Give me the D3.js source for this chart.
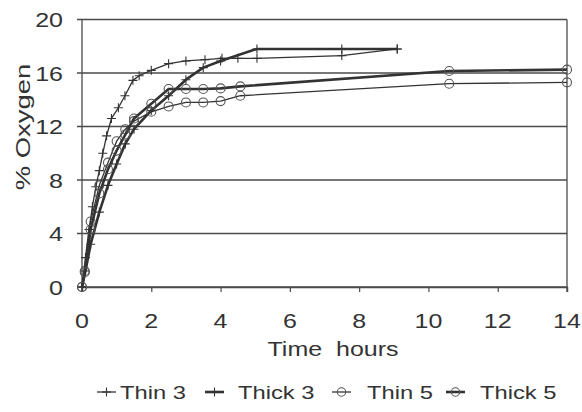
<!DOCTYPE html>
<html>
<head>
<meta charset="utf-8">
<script src="https://cdn.jsdelivr.net/npm/d3@7/dist/d3.min.js"></script>
<style>
  html, body { margin: 0; padding: 0; background: #ffffff; }
  svg { display: block; }
  text { font-family: "Liberation Sans", Arial, sans-serif; fill: #333; }
</style>
</head>
<body>
<svg id="chart" width="582" height="412"></svg>
<script>
// ---- data ----
const xTicks = [0, 2, 4, 6, 8, 10, 12, 14];
const yTicks = [0, 4, 8, 12, 16, 20];

const thin3T = [0, 0.1, 0.2, 0.3, 0.4, 0.5, 0.6, 0.71, 0.85, 1.05, 1.24, 1.47, 1.65, 2.0, 2.5, 3.0, 3.55, 4.04, 4.5, 5.05, 7.5, 9.1];
const thin3V = [0, 2.2, 4.3, 6.0, 7.5, 8.7, 10.0, 11.3, 12.6, 13.4, 14.3, 15.45, 15.8, 16.2, 16.7, 16.9, 17.0, 17.1, 17.1, 17.1, 17.3, 17.8];

const thick3T = [0, 0.1, 0.25, 0.5, 0.75, 1.0, 1.25, 1.5, 2.0, 2.5, 3.0, 3.5, 4.0, 5.05, 7.5, 9.1];
const thick3V = [0, 1.2, 3.2, 5.6, 7.6, 9.2, 10.7, 11.8, 13.2, 14.3, 15.5, 16.4, 16.9, 17.8, 17.8, 17.8];

const thin5T = [0, 0.08, 0.25, 0.5, 0.75, 1.0, 1.25, 1.5, 2.0, 2.5, 3.0, 3.5, 4.0, 4.57, 10.6, 14.0];
const thin5V = [0, 1.2, 4.9, 7.6, 9.3, 10.9, 11.8, 12.4, 13.1, 13.5, 13.8, 13.8, 13.9, 14.3, 15.2, 15.3];

const thick5T = [0, 0.08, 0.25, 0.5, 0.75, 1.0, 1.25, 1.5, 2.0, 2.5, 3.0, 3.5, 4.0, 4.57, 10.6, 14.0];
const thick5V = [0, 1.1, 4.3, 7.0, 8.8, 10.2, 11.4, 12.6, 13.7, 14.8, 14.8, 14.8, 14.85, 15.0, 16.15, 16.25];

const seriesNames = ["Thin 3", "Thick 3", "Thin 5", "Thick 5"];

// ---- layout ----
const svg = d3.select("#chart");
const pLeft = 82, pRight = 567, pTop = 19.5, pBottom = 287;
const x = d3.scaleLinear().domain([0, 14]).range([pLeft, pRight]);
const y = d3.scaleLinear().domain([0, 20]).range([pBottom, pTop]);
const SX = 1.25; // horizontal stretch of the scanned text

const series = [
  { name: seriesNames[0], t: thin3T, v: thin3V, w: 1.3, marker: "plus" },
  { name: seriesNames[1], t: thick3T, v: thick3V, w: 2.6, marker: "plus" },
  { name: seriesNames[2], t: thin5T, v: thin5V, w: 1.3, marker: "circle" },
  { name: seriesNames[3], t: thick5T, v: thick5V, w: 2.6, marker: "circle" }
];

// gridlines (y)
const grid = svg.append("g");
grid.selectAll("line").data(yTicks).join("line")
  .attr("x1", pLeft - 5).attr("x2", pRight)
  .attr("y1", d => y(d)).attr("y2", d => y(d))
  .attr("stroke", "#4a4a4a").attr("stroke-width", 1.3);

// frame: left axis, right border
svg.append("line").attr("x1", pLeft).attr("x2", pLeft).attr("y1", y(20)).attr("y2", y(0))
  .attr("stroke", "#4a4a4a").attr("stroke-width", 1.3);
svg.append("line").attr("x1", pRight).attr("x2", pRight).attr("y1", y(20)).attr("y2", y(0) + 5)
  .attr("stroke", "#4a4a4a").attr("stroke-width", 1.3);

// x axis
const xAxis = svg.append("g").attr("transform", `translate(0,${pBottom})`)
  .call(d3.axisBottom(x).tickValues(xTicks).tickSize(5).tickFormat(""));
xAxis.select(".domain").attr("stroke", "#4a4a4a").attr("stroke-width", 1.3);
xAxis.selectAll(".tick line").attr("stroke", "#4a4a4a").attr("stroke-width", 1.2);

// x tick labels
svg.append("g").selectAll("text").data(xTicks).join("text")
  .attr("transform", d => `translate(${x(d)},328) scale(${SX},1)`)
  .attr("text-anchor", "middle").attr("font-size", 20)
  .text(d => d);

// y tick labels
svg.append("g").selectAll("text").data(yTicks).join("text")
  .attr("transform", d => `translate(63,${y(d) + 7.5}) scale(${SX},1)`)
  .attr("text-anchor", "end").attr("font-size", 20)
  .text(d => d);

// axis titles
svg.append("text")
  .attr("transform", `translate(333,356) scale(${SX},1)`)
  .attr("text-anchor", "middle").attr("font-size", 20)
  .style("white-space", "pre")
  .text("Time  hours");
svg.append("text")
  .attr("transform", `translate(30,127) rotate(-90) scale(1.37,1)`)
  .attr("text-anchor", "middle").attr("font-size", 20)
  .text("% Oxygen");

// lines
const line = d3.line().x(d => x(d[0])).y(d => y(d[1]));
series.forEach(s => {
  const pts = s.t.map((t, i) => [t, s.v[i]]);
  svg.append("path").datum(pts)
    .attr("d", line).attr("fill", "none")
    .attr("stroke", "#333").attr("stroke-width", s.w)
    .attr("stroke-linejoin", "round");
  const g = svg.append("g");
  if (s.marker === "plus") {
    g.selectAll("path").data(pts).join("path")
      .attr("d", d => `M${x(d[0]) - 4.5},${y(d[1])}h9M${x(d[0])},${y(d[1]) - 4.5}v9`)
      .attr("stroke", "#333").attr("stroke-width", 1.1).attr("fill", "none");
  } else {
    g.selectAll("circle").data(pts).join("circle")
      .attr("cx", d => x(d[0])).attr("cy", d => y(d[1])).attr("r", 4.5)
      .attr("stroke", "#555").attr("stroke-width", 1.1).attr("fill", "none");
  }
});

// legend
const legendX = [97, 205, 332, 446];
const legendTextX = [120, 238, 367, 480];
const ly = 392;
series.forEach((s, i) => {
  const g = svg.append("g");
  const x0 = legendX[i], x1 = legendX[i] + 19, cx = (x0 + x1) / 2;
  g.append("line").attr("x1", x0).attr("x2", x1).attr("y1", ly).attr("y2", ly)
    .attr("stroke", "#333").attr("stroke-width", s.w);
  if (s.marker === "plus") {
    g.append("path").attr("d", `M${cx - 4.5},${ly}h9M${cx},${ly - 4.5}v9`)
      .attr("stroke", "#333").attr("stroke-width", 1.1);
  } else {
    g.append("circle").attr("cx", cx).attr("cy", ly).attr("r", 4.2)
      .attr("stroke", "#555").attr("stroke-width", 1.1).attr("fill", "none");
  }
  g.append("text")
    .attr("transform", `translate(${legendTextX[i]},${ly + 7}) scale(${SX},1)`)
    .attr("font-size", 19)
    .text(s.name);
});
</script>
</body>
</html>
